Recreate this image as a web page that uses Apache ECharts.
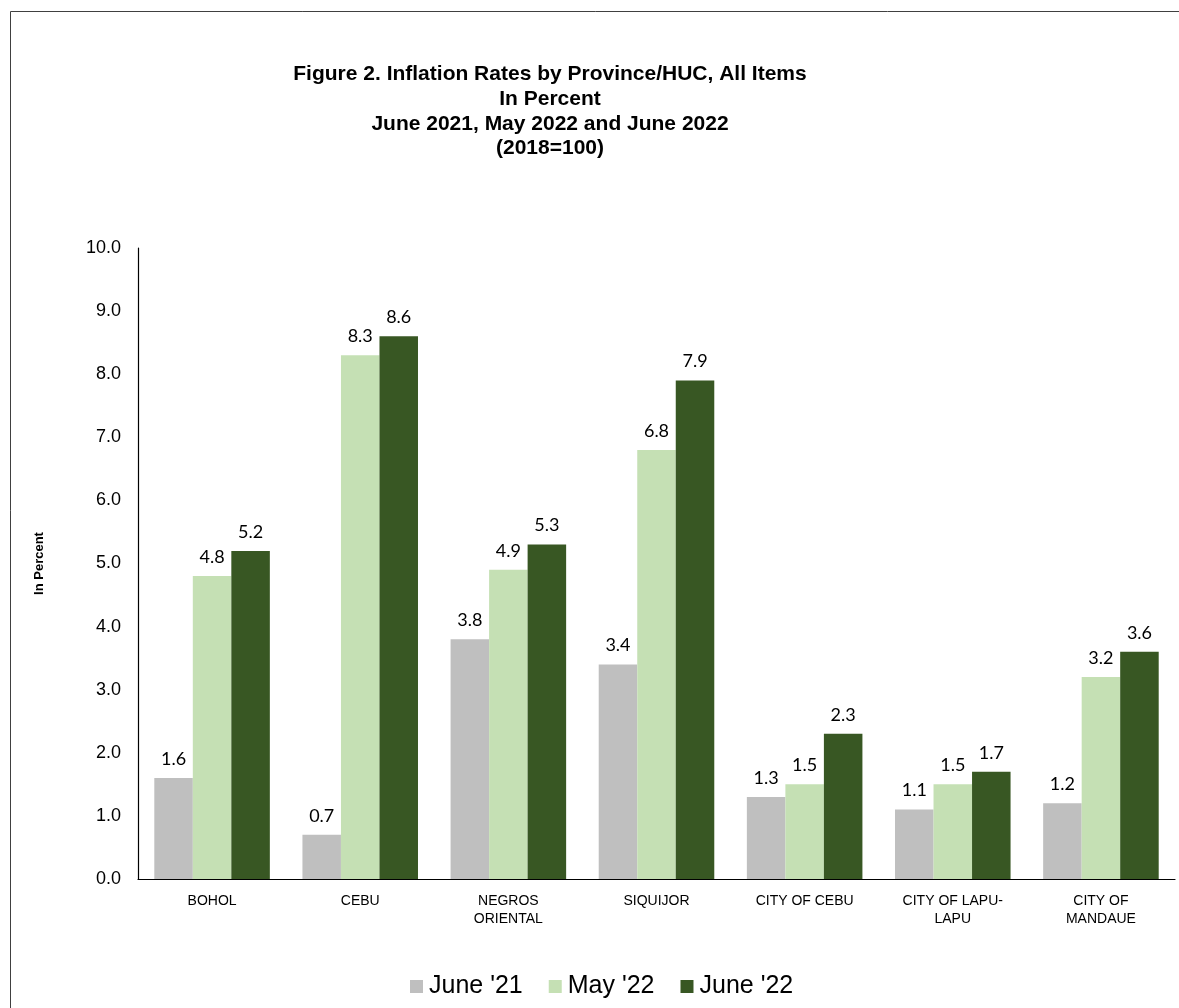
<!DOCTYPE html>
<html>
<head>
<meta charset="utf-8">
<script src="https://cdn.jsdelivr.net/npm/echarts@6/dist/echarts.min.js"></script>
<style>
  html, body { margin: 0; padding: 0; background: #ffffff; }
  #chart { width: 1179px; height: 1008px; }
</style>
</head>
<body>
<div id="chart"></div>
<script>
// Provinces / highly urbanized cities
const categories = ['BOHOL', 'CEBU', 'NEGROS\nORIENTAL', 'SIQUIJOR', 'CITY OF CEBU', 'CITY OF LAPU-\nLAPU', 'CITY OF\nMANDAUE'];

// Headline inflation, all items, in percent (2018=100)
const june2021 = [1.6, 0.7, 3.8, 3.4, 1.3, 1.1, 1.2];
const may2022  = [4.8, 8.3, 4.9, 6.8, 1.5, 1.5, 3.2];
const june2022 = [5.2, 8.6, 5.3, 7.9, 2.3, 1.7, 3.6];

const seriesNames = ["June '21", "May '22", "June '22"];
const seriesColors = ['#bfbfbf', '#c5e0b4', '#385723'];

const titleLines = [
  'Figure 2. Inflation Rates by Province/HUC, All Items',
  'In Percent',
  'June 2021, May 2022 and June 2022',
  '(2018=100)'
];

const chart = echarts.init(document.getElementById('chart'));

const labelStyle = {
  show: true,
  position: 'top',
  distance: 10,
  fontFamily: 'Lato, "Open Sans", sans-serif',
  fontSize: 18,
  color: '#000000',
  formatter: p => p.value.toFixed(1)
};

const makeSeries = (name, data, color) => ({
  name: name,
  type: 'bar',
  data: data,
  barGap: '0%',
  barCategoryGap: '22%',
  itemStyle: { color: color },
  label: labelStyle,
  emphasis: { disabled: true }
});

chart.setOption({
  animation: false,
  backgroundColor: '#ffffff',
  graphic: [{
    type: 'rect',
    shape: { x: 10.5, y: 11.5, width: 1300, height: 1200 },
    style: { fill: 'none', stroke: '#404040', lineWidth: 1 },
    silent: true
  }],
  title: {
    text: titleLines.join('\n'),
    left: 545,
    textAlign: 'center',
    top: 57,
    textStyle: {
      fontFamily: '"Liberation Sans", Arial, sans-serif',
      fontWeight: 'bold',
      fontSize: 21,
      lineHeight: 24.7,
      color: '#000000'
    }
  },
  legend: {
    data: seriesNames,
    bottom: 4,
    left: 405,
    itemWidth: 13,
    itemHeight: 13,
    itemGap: 26,
    icon: 'rect',
    textStyle: {
      fontFamily: '"Liberation Sans", Arial, sans-serif',
      fontSize: 25,
      color: '#000000',
      padding: [0, 0, 0, 1]
    }
  },
  grid: {
    left: 138,
    right: 4,
    top: 248,
    bottom: 129,
    containLabel: false
  },
  xAxis: {
    type: 'category',
    data: categories,
    axisLine: { lineStyle: { color: '#000000', width: 1.2 } },
    axisTick: { show: false },
    axisLabel: {
      interval: 0,
      margin: 13,
      fontFamily: '"Liberation Sans", Arial, sans-serif',
      fontSize: 14,
      lineHeight: 18,
      color: '#000000'
    }
  },
  yAxis: {
    type: 'value',
    min: 0,
    max: 10,
    interval: 1,
    name: 'In Percent',
    nameLocation: 'middle',
    nameGap: 92,
    nameRotate: 90,
    nameTextStyle: {
      fontFamily: '"Liberation Sans", Arial, sans-serif',
      fontWeight: 'bold',
      fontSize: 13,
      color: '#000000'
    },
    axisLine: { show: true, lineStyle: { color: '#000000', width: 1.2 } },
    axisTick: { show: false },
    splitLine: { show: false },
    axisLabel: {
      margin: 17,
      fontFamily: '"Liberation Sans", Arial, sans-serif',
      fontSize: 18,
      color: '#000000',
      formatter: v => v.toFixed(1)
    }
  },
  series: [
    makeSeries(seriesNames[0], june2021, seriesColors[0]),
    makeSeries(seriesNames[1], may2022, seriesColors[1]),
    makeSeries(seriesNames[2], june2022, seriesColors[2])
  ]
});
</script>
</body>
</html>
